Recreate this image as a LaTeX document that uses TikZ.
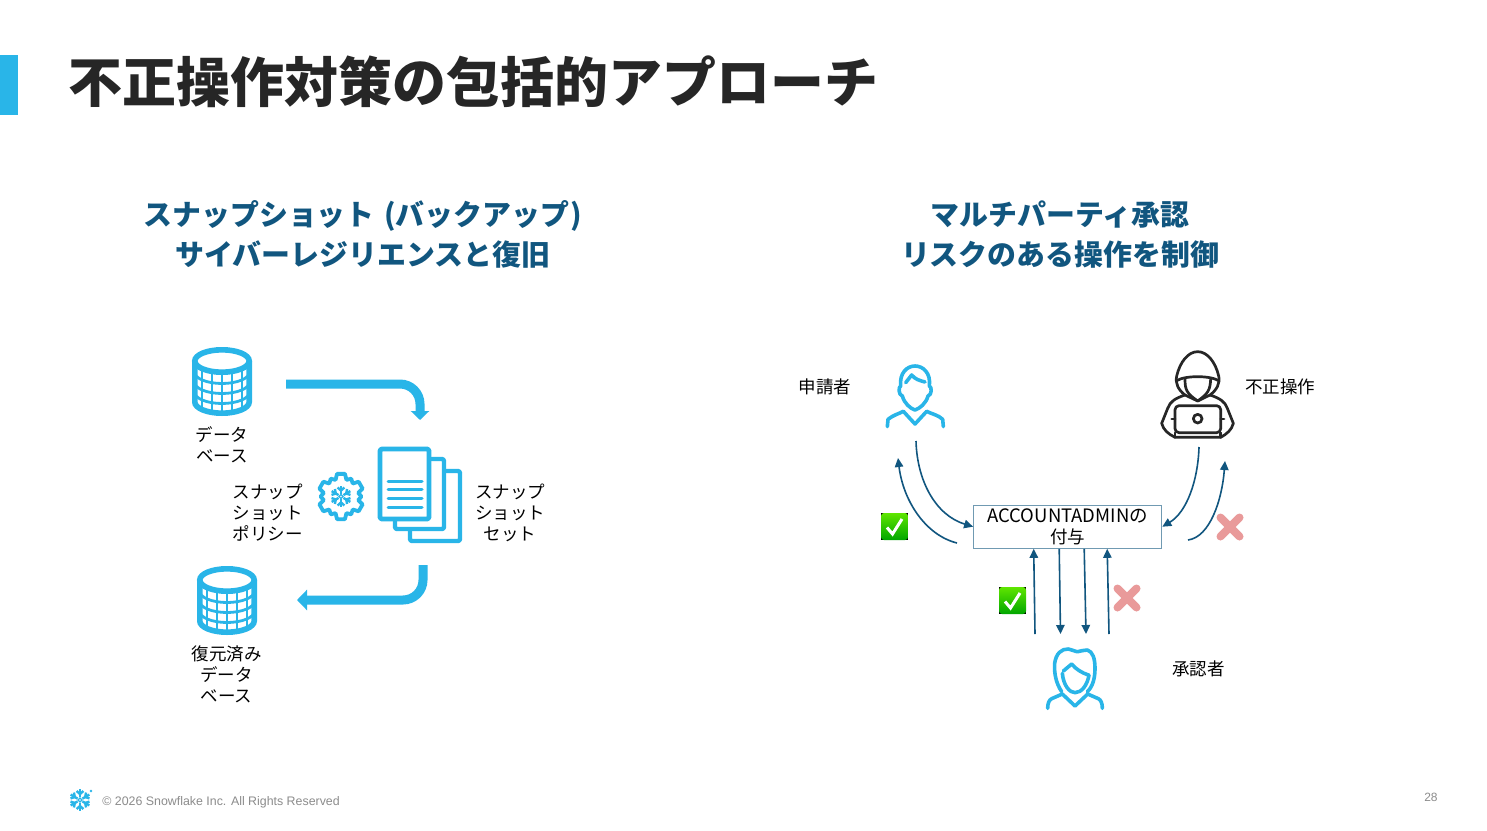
\documentclass[tikz,border=0pt]{standalone}
\usepackage{fontspec}
\setmainfont{Noto Sans CJK JP}
\newfontfamily\footfont{Liberation Sans}
\usetikzlibrary{arrows.meta,calc}
\definecolor{snow}{HTML}{29B5E8}
\definecolor{navy}{HTML}{11567F}
\definecolor{ink}{HTML}{262626}
\definecolor{crossc}{HTML}{E99A9A}
\definecolor{footc}{HTML}{8C8C8C}
\tikzset{
  x=0.5pt,y=-0.5pt,
  lbl/.style={inner sep=0pt,align=center,text=black,font=\fontsize{8.75}{10.5}\selectfont},
  head/.style={inner sep=0pt,align=center,text=navy,font=\fontsize{14.45}{20}\selectfont\bfseries},
  flow/.style={line width=0.8pt,draw=navy,-{Triangle[length=4.5pt,width=4.2pt]}},
  bigflow/.style={line width=4.5pt,draw=snow,rounded corners=10pt,-{Triangle[length=4.5pt,width=9pt]}},
  iconline/.style={draw=snow,line width=1.8pt,line cap=round,line join=round},
  hackline/.style={draw=ink,line width=1.35pt,line cap=round,line join=round},
  cross/.style={draw=crossc,line width=4pt,line cap=round},
}
\newcommand{\dbicon}[2]{%
  \begin{scope}[shift={(#1,#2)}]
    \draw[draw=snow,line width=2.8pt] (0,0) ellipse [x radius=13.6pt,y radius=5.6pt];
    \draw[draw=snow,line width=2.8pt] (-27.2,0) -- (-27.2,41) arc [start angle=180,end angle=360,x radius=13.6pt,y radius=5.6pt] -- (27.2,0);
    \foreach \vx/\vy in {-20/7.9,-10/10.7,0/11.5,10/10.7,20/7.9}
      \draw[draw=snow,line width=1.4pt] (\vx,\vy) -- (\vx,\vy+41);
    \foreach \dy in {11,21,31}
      \draw[draw=snow,line width=1.4pt] (-27.5,\dy) arc [start angle=180,end angle=360,x radius=13.75pt,y radius=5.75pt];
  \end{scope}}
\newcommand{\flake}[3]{%
  \begin{scope}[shift={(#1,#2)}]
    \foreach \ang in {30,90,150,210,270,330}{
      \draw[draw=snow,line width=#3,rotate=\ang] (2.8,0) -- (10.8,0);
      \draw[draw=snow,line width=#3,rotate=\ang] (9,3.4) -- (6,0) -- (9,-3.4);
    }
    \draw[draw=snow,line width=0.6pt] (-2,0) -- (0,-2) -- (2,0) -- (0,2) -- cycle;
  \end{scope}}
\newcommand{\checkicon}[2]{%
  \begin{scope}[shift={(#1,#2)}]
    \fill[black] (0,0) rectangle (27,27);
    \shade[top color=green!45!lime!90!black,bottom color=green!65!black,rounded corners=1.5pt] (0,0) rectangle (27,27);
    \draw[draw=white,line width=1.5pt,line join=miter] (6,14.5) -- (11.5,21) -- (21,6);
  \end{scope}}
\begin{document}
\begin{tikzpicture}
\useasboundingbox (0,0) rectangle (1487,830);
\fill[white] (0,0) rectangle (1487,830);
\fill[snow] (0,55) rectangle (18,115);
\node[anchor=west,inner sep=0pt,text=ink,font=\fontsize{26.97}{30}\selectfont\bfseries] (title) at (68.5,82) {不正操作対策の包括的アプローチ};
\node[head] (headA) at (363,234.5) {スナップショット\hspace{1.5pt} (バックアップ\hspace{0.8pt})\\[0pt]サイバーレジリエンスと復旧};
\node[head] (headB) at (1060,235) {マルチパーティ承認\\[0pt]リスクのある操作を制御};

% left
\dbicon{222}{361}
\dbicon{227}{580}
\coordinate (aS) at (286,384); \coordinate (aM) at (420,384); \coordinate (aE) at (420,420);
\draw[bigflow] (aS) -- (aM) -- (aE);
\coordinate (bS) at (423,565); \coordinate (bM) at (423,600); \coordinate (bE) at (297,600);
\draw[bigflow,-{Triangle[length=5pt,width=10pt]}] (bS) -- (bM) -- (bE);
\node[lbl] (ldb) at (222,445) {データ\\ベース};
\node[lbl] (lpol) at (267.5,512.5) {スナップ\\ショット\\ポリシー};
\node[lbl] (lset) at (510,512.5) {スナップ\\ショット\\セット};
\node[lbl] (lrest) at (226.5,674.5) {復元済み\\データ\\ベース};

% documents
\draw[iconline,fill=white,line width=2.2pt,rounded corners=0.8pt] (410,471) rectangle (460,541);
\draw[iconline,fill=white,line width=2.2pt,rounded corners=0.8pt] (395,459) rectangle (444,529);
\draw[iconline,fill=white,line width=2.4pt,rounded corners=0.8pt] (380,449) rectangle (429,519);
\foreach \ly in {481,489.5,498,507}
  \draw[draw=snow,line width=1.5pt,line cap=round] (388,\ly) -- (422,\ly);

% gear
\begin{scope}[shift={(341,496.5)}]
  \foreach \ga in {30,90,150,210,270,330}
    \draw[draw=snow,line width=1.9pt,line cap=round,line join=round]
      (\ga-30:20.5) -- (\ga-18:17.5) -- (\ga-10:23) -- (\ga+10:23) -- (\ga+18:17.5) -- (\ga+30:20.5);
\end{scope}
\flake{341}{496.5}{1.2pt}

% right box and connectors
\node[draw=navy!60!white,line width=0.6pt,minimum width=94pt,minimum height=21.5pt,inner sep=0pt,lbl] (box) at (1067.7,526.7) {\raisebox{-0.4pt}{\fontsize{9.25}{10.5}\selectfont ACCOUNTADMINの}\\\raisebox{-0.4pt}{付与}};
\coordinate (manOut) at (916,441);
\coordinate (manIn) at (898,458);
\coordinate (okOut) at (957,543);
\coordinate (hackOut) at (1199,447);
\coordinate (hackIn) at (1225,461);
\coordinate (ngOut) at (1188,540);
\draw[flow] (manOut) .. controls (917,480) and (935,515) .. (box.west);
\draw[flow] (okOut) .. controls (925,535) and (903,500) .. (manIn);
\draw[flow] (hackOut) .. controls (1198,480) and (1187,512) .. (box.east);
\draw[flow] (ngOut) .. controls (1210,537) and (1222,500) .. (hackIn);
\coordinate (u1) at (1035,634); \coordinate (d1) at (1060.5,634);
\coordinate (d2) at (1086,634); \coordinate (u2) at (1109,634);
\draw[flow] (u1) -- ($(box.south)+(-34,0)$);
\draw[flow] ($(box.south)+(-8.5,0)$) -- (d1);
\draw[flow] ($(box.south)+(16.5,0)$) -- (d2);
\draw[flow] (u2) -- ($(box.south)+(39.5,0)$);

\node[lbl] (lreq) at (825,386.5) {申請者};
\node[lbl] (lbad) at (1280,386.5) {不正操作};
\node[lbl] (lapp) at (1198.5,669) {承認者};

\checkicon{881}{513}
\checkicon{999}{587}
\draw[cross] (1220.5,517.5) -- (1239.5,536.5) (1239.5,517.5) -- (1220.5,536.5);
\draw[cross] (1117.5,588.5) -- (1136.5,607.5) (1136.5,588.5) -- (1117.5,607.5);

% man
\begin{scope}[shift={(870,340)},x=0.16667pt,y=-0.16667pt]
  \draw[iconline] (135,210) .. controls (120,205) and (103,190) .. (97,168) .. controls (85,165) and (85,140) .. (92,138) .. controls (88,100) and (110,78) .. (135,78) .. controls (160,78) and (183,100) .. (178,138) .. controls (186,140) and (186,165) .. (174,168) .. controls (168,190) and (150,205) .. (135,210) -- cycle;
  \draw[iconline] (107,128) -- (125,105) .. controls (135,118) and (150,122) .. (165,126);
  \draw[iconline] (52,260) -- (54,238) .. controls (70,225) and (85,222) .. (100,214) -- (135,252) -- (170,214) .. controls (185,222) and (205,225) .. (218,238) -- (220,260);
\end{scope}

% woman
\begin{scope}[shift={(980,540)},x=0.16667pt,y=-0.16667pt]
  \draw[iconline] (245,455) .. controls (228,430) and (222,400) .. (224,370) .. controls (228,340) and (245,326) .. (265,327) .. controls (275,328) and (285,335) .. (293,335) .. controls (303,335) and (312,328) .. (322,330) .. controls (338,335) and (345,355) .. (345,385) .. controls (345,415) and (338,440) .. (322,455);
  \draw[iconline] (247,400) .. controls (250,435) and (268,458) .. (285,458) .. controls (305,458) and (322,435) .. (327,405);
  \draw[iconline] (250,393) -- (275,372) .. controls (288,388) and (305,398) .. (325,405);
  \draw[iconline] (203,505) .. controls (203,490) and (207,480) .. (215,476) -- (247,462) -- (285,498) -- (323,462) -- (355,476) .. controls (363,480) and (367,490) .. (367,505);
\end{scope}

% hacker
\begin{scope}[shift={(870,340)},x=0.16667pt,y=-0.16667pt]
  \draw[hackline] (945,165) .. controls (925,150) and (915,130) .. (920,108) .. controls (930,65) and (955,35) .. (983,35) .. controls (1011,35) and (1036,65) .. (1046,108) .. controls (1051,130) and (1040,150) .. (1020,165) -- (983,183) -- cycle;
  \draw[hackline] (920,122) .. controls (945,106) and (1020,106) .. (1046,122);
  \draw[hackline] (945,118) .. controls (945,150) and (950,160) .. (983,183) .. controls (1015,160) and (1020,150) .. (1022,118);
  \draw[hackline] (945,165) .. controls (915,175) and (900,185) .. (893,205) -- (875,250) .. controls (880,270) and (895,282) .. (915,292) -- (1052,292) .. controls (1070,282) and (1085,270) .. (1090,250) -- (1072,205) .. controls (1065,185) and (1050,175) .. (1020,165);
  \draw[hackline,fill=white,rounded corners=2pt] (915,197) rectangle (1052,278);
  \draw[hackline] (915,292) -- (915,278) (1052,292) -- (1052,278);
  \draw[hackline] (983,236) circle [radius=13];
  \draw[hackline] (905,237) -- (915,237) (1052,237) -- (1062,237);
\end{scope}

% footer
\flake{80}{800}{1.2pt}
\fill[snow] (91,791) circle [radius=1.3];
\node[anchor=west,inner sep=0pt,text=footc,font=\footfont\fontsize{6.19}{8}\selectfont] (foot) at (102,802) {© 2026 Snowflake Inc. All Rights Reserved};
\node[anchor=east,inner sep=0pt,text=footc,font=\footfont\fontsize{6}{8}\selectfont] (pageno) at (1438,797) {28};
\end{tikzpicture}
\end{document}
